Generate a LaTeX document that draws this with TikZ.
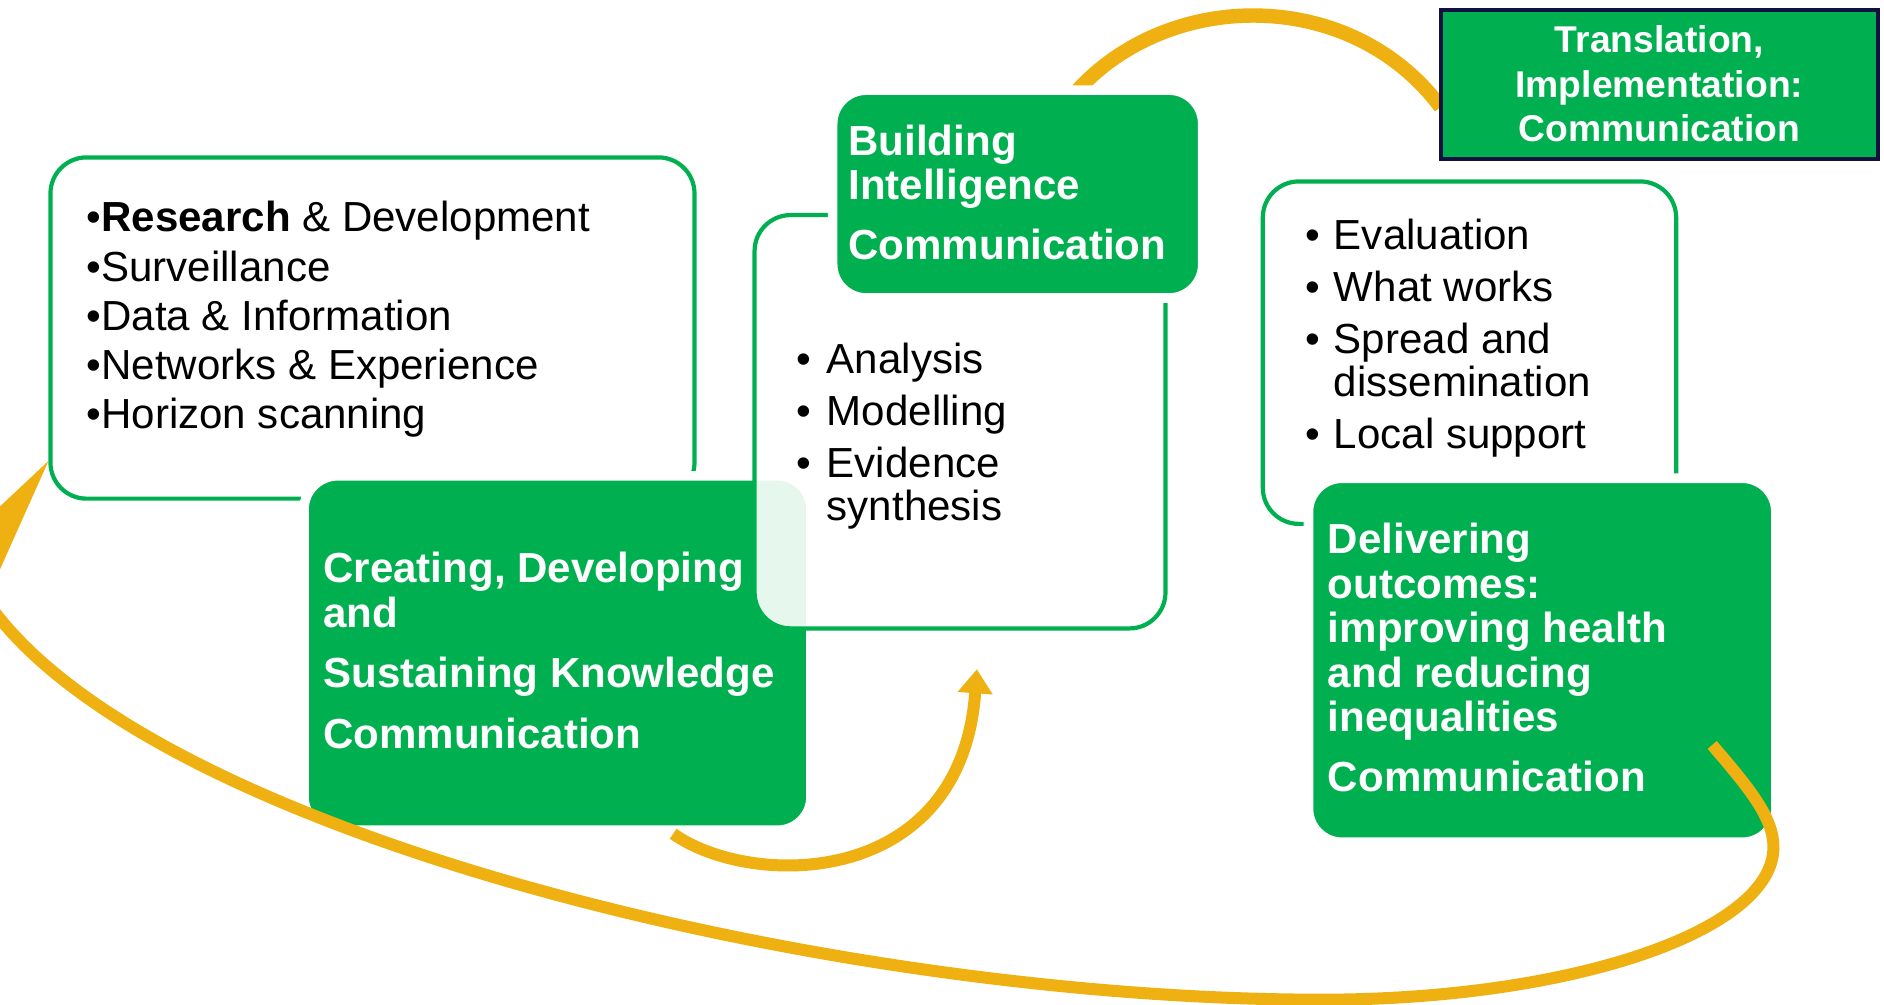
\documentclass[tikz,border=0pt]{standalone}
\usepackage{fontspec}
\setmainfont{Liberation Sans}
\usetikzlibrary{arrows.meta,backgrounds,positioning}

\definecolor{pgreen}{RGB}{0,176,80}
\definecolor{pgold}{RGB}{238,177,17}
\definecolor{pnavy}{RGB}{15,18,64}
\newcommand{\bul}[1]{\makebox[#1][l]{\textbullet}}

\begin{document}
\begin{tikzpicture}[x=1pt,y=-1pt,
    whitebox/.style={rectangle,rounded corners=30pt,draw=pgreen,line width=3.5pt,fill=white,inner sep=0pt,outer sep=0pt,anchor=north west},
    greenbox/.style={rectangle,rounded corners=28pt,draw=white,line width=8pt,fill=pgreen,inner sep=0pt,outer sep=0pt,anchor=north west},
    listtext/.style={anchor=base west,align=left,inner sep=0pt,font=\fontsize{35}{36}\selectfont},
    headtext/.style={anchor=base west,align=left,inner sep=0pt,text=white,font=\bfseries\fontsize{35}{37}\selectfont},
    loop arrow/.style={draw=pgold,line width=10pt}]
  \useasboundingbox (0,0) rectangle (1568,836);
  \clip (0,0) rectangle (1568,836);

  % left: gathering (text nodes sit on their last baseline)
  \node[whitebox,minimum width=536pt,minimum height=284pt] (gather) at (42,131) {};
  \node[listtext,font=\fontsize{35}{41}\selectfont] (gatherlist) at (72,357)
    {•\textbf{Research} \& Development\\ •Surveillance\\ •Data \& Information\\
     •Networks \& Experience\\ •Horizon scanning};
  \node[greenbox,minimum width=422pt,minimum height=295pt] (create) at (253,396) {};
  \node[headtext] (createtxt) at (269,623)
    {Creating, Developing\\ and\\[13pt] Sustaining Knowledge\\[14pt] Communication};

  % middle: intelligence
  \node[whitebox,fill opacity=0.9,minimum width=342pt,minimum height=344pt] (intel) at (628,179) {};
  \node[listtext] (intellist) at (663,433)
    {\bul{25pt}Analysis\\[7pt] \bul{25pt}Modelling\\[7pt] \bul{25pt}Evidence\\ \hspace*{25pt}synthesis};
  \node[greenbox,minimum width=308pt,minimum height=173pt] (build) at (693,75) {};
  \node[headtext] (buildtxt) at (706,216)
    {Building\\ Intelligence\\[13pt] Communication};

  % right: implementation
  \node[whitebox,minimum width=344pt,minimum height=285pt] (impl) at (1051,151) {};
  \node[listtext] (impllist) at (1086,373)
    {\bul{24pt}Evaluation\\[7pt] \bul{24pt}What works\\[7pt] \bul{24pt}Spread and\\
     \hspace*{24pt}dissemination\\[7pt] \bul{24pt}Local support};
  \node[greenbox,minimum width=389pt,minimum height=303pt] (deliver) at (1089,398) {};
  \node[headtext] (delivertxt) at (1105,659)
    {Delivering\\ outcomes:\\ improving health\\ and reducing\\ inequalities\\[13pt] Communication};

  \node[rectangle,draw=pnavy,line width=3.5pt,fill=pgreen,inner sep=0pt,outer sep=0pt,anchor=north west,
        minimum width=364pt,minimum height=124pt] (transl) at (1199,8) {};
  \node[anchor=base,align=center,inner sep=0pt,text=white,font=\bfseries\fontsize{31}{37}\selectfont]
    (transltxt) at (1381,118) {Translation,\\ Implementation:\\ Communication};

  % connectors
  \begin{scope}[on background layer]
    \draw[loop arrow,line width=12pt] (build.60) .. controls (975,-10) and (1125,-10) .. (transl.186);
  \end{scope}
  \coordinate (tipA) at (813,557);
  \draw[loop arrow,-{Triangle[length=20pt,width=28pt]},shorten <=5pt]
    (create.-58) .. controls (625,740) and (800,740) .. (tipA);
  \coordinate (loopstart) at (1425,620);
  \draw[loop arrow,-{Triangle[length=100pt,width=36pt]}]
    (loopstart) .. controls (1455,655) and (1476,680) .. (1476,705)
    .. controls (1476,775) and (1307,832) .. (1100,832)
    .. controls (700,832) and (150,700) .. (0,515)
    .. controls (-25,484) and (-29,481) .. (gather.202.5);
\end{tikzpicture}
\end{document}
